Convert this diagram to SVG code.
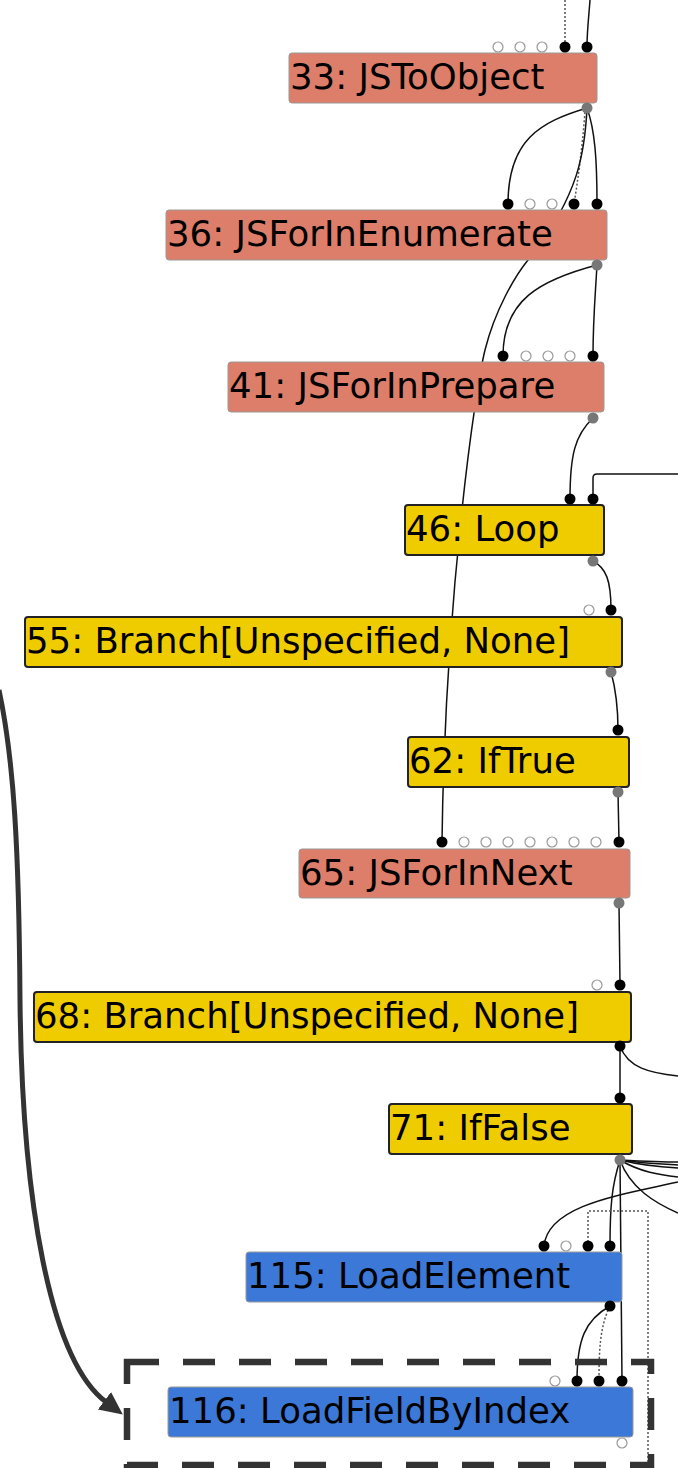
<svg xmlns="http://www.w3.org/2000/svg" width="678" height="1468" viewBox="0 0 678 1468">
<style>
.js{fill:#DD7E6B;stroke:#999;stroke-width:1}
.ctl{fill:#EFCC00;stroke:#222;stroke-width:2}
.simp{fill:#3C78D8;stroke:#999;stroke-width:1}
.lbl{font-family:"DejaVu Sans",sans-serif;font-size:35.5px;fill:#000}
.e{fill:none;stroke:#111;stroke-width:1.5}
.d{fill:none;stroke:#555;stroke-width:1.5;stroke-dasharray:2 2}
.pin{fill:#000}
.pout{fill:#777}
.popen{fill:#fff;stroke:#999;stroke-width:1.2}
.hl{fill:none;stroke:#333;stroke-width:6.5;stroke-dasharray:32 24}
.arr{fill:none;stroke:#333;stroke-width:5}
</style>
<defs>
<marker id="ah" markerUnits="userSpaceOnUse" markerWidth="24" markerHeight="24" viewBox="0 0 24 24" refX="2" refY="12" orient="auto">
<path d="M0,1 L23,12 L0,23 z" fill="#333"/>
</marker>
</defs>
<rect width="678" height="1468" fill="#fff"/>
<g id="edges">
<path class="e" d="M590,0 C589,15 587,30 587,47"/>
<path class="d" d="M565,0 L565,47"/>
<path class="e" d="M587,108 C540,122 508,140 508,204"/>
<path class="d" d="M585,112 C582,150 578,180 574,204"/>
<path class="e" d="M587,108 C595,130 597,160 597,204"/>
<path class="e" d="M587,108 C585,150 580,195 528,260 C515,276 495,310 485,350 C475,390 445,600 442,842"/>
<path class="e" d="M597,265 C540,280 503,300 503,356"/>
<path class="e" d="M597,265 C595,300 593,320 593,356"/>
<path class="e" d="M593,418 C575,435 570,455 570,499"/>
<path class="e" d="M678,474 L597,474 Q593,474 593,478 L593,499"/>
<path class="e" d="M593,561 C606,568 611,580 611,610"/>
<path class="e" d="M611,672 C616,690 618,705 618,730"/>
<path class="e" d="M618,792 L619,842"/>
<path class="e" d="M619,903 L620,985"/>
<path class="e" d="M620,1046 L620,1098"/>
<path class="e" d="M620,1046 C628,1068 650,1073 678,1076"/>
<path class="e" d="M620,1160 C640,1161 660,1162 678,1162"/>
<path class="e" d="M620,1160 C640,1163 660,1164 678,1165"/>
<path class="e" d="M620,1160 C640,1165 660,1167 678,1168"/>
<path class="e" d="M620,1160 C640,1172 660,1175 678,1177"/>
<path class="e" d="M620,1160 C630,1188 655,1203 678,1213"/>
<path class="e" d="M678,1182 C620,1195 548,1205 544,1246"/>
<path class="e" d="M620,1160 C612,1185 610,1205 610,1246"/>
<path class="e" d="M620,1160 L622,1381"/>
<path class="d" d="M588,1246 L588,1211 L648,1211 L648,1468"/>
<path class="e" d="M610,1306 C585,1320 577,1340 577,1381"/>
<path class="d" d="M608,1310 C600,1330 599,1350 599,1381"/>
</g>
<g id="n33">
<rect class="js" x="289" y="53" width="308" height="50" rx="3"/>
<text class="lbl" x="290" y="89">33: JSToObject</text>
<circle class="popen" cx="498" cy="47" r="5"/><circle class="popen" cx="520" cy="47" r="5"/><circle class="popen" cx="542" cy="47" r="5"/>
<circle class="pin" cx="565" cy="47" r="5.5"/><circle class="pin" cx="587" cy="47" r="5.5"/>
<circle class="pout" cx="587" cy="108" r="5.5"/>
</g>
<g id="n36">
<rect class="js" x="166" y="210" width="441" height="50" rx="3"/>
<text class="lbl" x="167" y="246">36: JSForInEnumerate</text>
<circle class="pin" cx="508" cy="204" r="5.5"/><circle class="popen" cx="530" cy="204" r="5"/><circle class="popen" cx="552" cy="204" r="5"/>
<circle class="pin" cx="574" cy="204" r="5.5"/><circle class="pin" cx="597" cy="204" r="5.5"/>
<circle class="pout" cx="597" cy="265" r="5.5"/>
</g>
<g id="n41">
<rect class="js" x="228" y="362" width="376" height="50" rx="3"/>
<text class="lbl" x="229" y="398">41: JSForInPrepare</text>
<circle class="pin" cx="503" cy="356" r="5.5"/><circle class="popen" cx="526" cy="356" r="5"/><circle class="popen" cx="548" cy="356" r="5"/><circle class="popen" cx="570" cy="356" r="5"/>
<circle class="pin" cx="593" cy="356" r="5.5"/>
<circle class="pout" cx="593" cy="418" r="5.5"/>
</g>
<g id="n46">
<rect class="ctl" x="405" y="505" width="199" height="50" rx="3"/>
<text class="lbl" x="406" y="541">46: Loop</text>
<circle class="pin" cx="570" cy="499" r="5.5"/><circle class="pin" cx="593" cy="499" r="5.5"/>
<circle class="pout" cx="593" cy="561" r="5.5"/>
</g>
<g id="n55">
<rect class="ctl" x="25" y="617" width="597" height="50" rx="3"/>
<text class="lbl" x="26" y="653">55: Branch[Unspecified, None]</text>
<circle class="popen" cx="589" cy="610" r="5"/><circle class="pin" cx="611" cy="610" r="5.5"/>
<circle class="pout" cx="611" cy="672" r="5.5"/>
</g>
<g id="n62">
<rect class="ctl" x="408" y="737" width="221" height="50" rx="3"/>
<text class="lbl" x="409" y="773">62: IfTrue</text>
<circle class="pin" cx="618" cy="730" r="5.5"/>
<circle class="pout" cx="618" cy="792" r="5.5"/>
</g>
<g id="n65">
<rect class="js" x="299" y="849" width="331" height="49" rx="3"/>
<text class="lbl" x="300" y="885">65: JSForInNext</text>
<circle class="pin" cx="442" cy="842" r="5.5"/>
<circle class="popen" cx="464" cy="842" r="5"/><circle class="popen" cx="486" cy="842" r="5"/><circle class="popen" cx="508" cy="842" r="5"/><circle class="popen" cx="530" cy="842" r="5"/><circle class="popen" cx="552" cy="842" r="5"/><circle class="popen" cx="574" cy="842" r="5"/><circle class="popen" cx="596" cy="842" r="5"/>
<circle class="pin" cx="619" cy="842" r="5.5"/>
<circle class="pout" cx="619" cy="903" r="5.5"/>
</g>
<g id="n68">
<rect class="ctl" x="34" y="992" width="597" height="50" rx="3"/>
<text class="lbl" x="35" y="1028">68: Branch[Unspecified, None]</text>
<circle class="popen" cx="597" cy="985" r="5"/><circle class="pin" cx="620" cy="985" r="5.5"/>
<circle class="pin" cx="620" cy="1046" r="5.5"/>
</g>
<g id="n71">
<rect class="ctl" x="389" y="1104" width="243" height="50" rx="3"/>
<text class="lbl" x="390" y="1140">71: IfFalse</text>
<circle class="pin" cx="620" cy="1098" r="5.5"/>
<circle class="pout" cx="620" cy="1160" r="5.5"/>
</g>
<g id="n115">
<rect class="simp" x="246" y="1252" width="376" height="50" rx="3"/>
<text class="lbl" x="247" y="1288">115: LoadElement</text>
<circle class="pin" cx="544" cy="1246" r="5.5"/><circle class="popen" cx="566" cy="1246" r="5"/><circle class="pin" cx="588" cy="1246" r="5.5"/><circle class="pin" cx="610" cy="1246" r="5.5"/>
<circle class="pin" cx="610" cy="1306" r="5.5"/>
</g>
<g id="n116">
<rect class="simp" x="168" y="1387" width="465" height="50" rx="3"/>
<text class="lbl" x="169" y="1423">116: LoadFieldByIndex</text>
<circle class="popen" cx="555" cy="1381" r="5"/><circle class="pin" cx="577" cy="1381" r="5.5"/><circle class="pin" cx="599" cy="1381" r="5.5"/><circle class="pin" cx="622" cy="1381" r="5.5"/>
<circle class="popen" cx="622" cy="1443" r="5"/>
</g>
<g id="highlight">
<rect class="hl" x="127" y="1362" width="524" height="103"/>
<path class="arr" d="M-1,690 C14,760 19,850 20,1000 C22,1200 50,1360 106,1402" marker-end="url(#ah)"/>
</g>
</svg>
